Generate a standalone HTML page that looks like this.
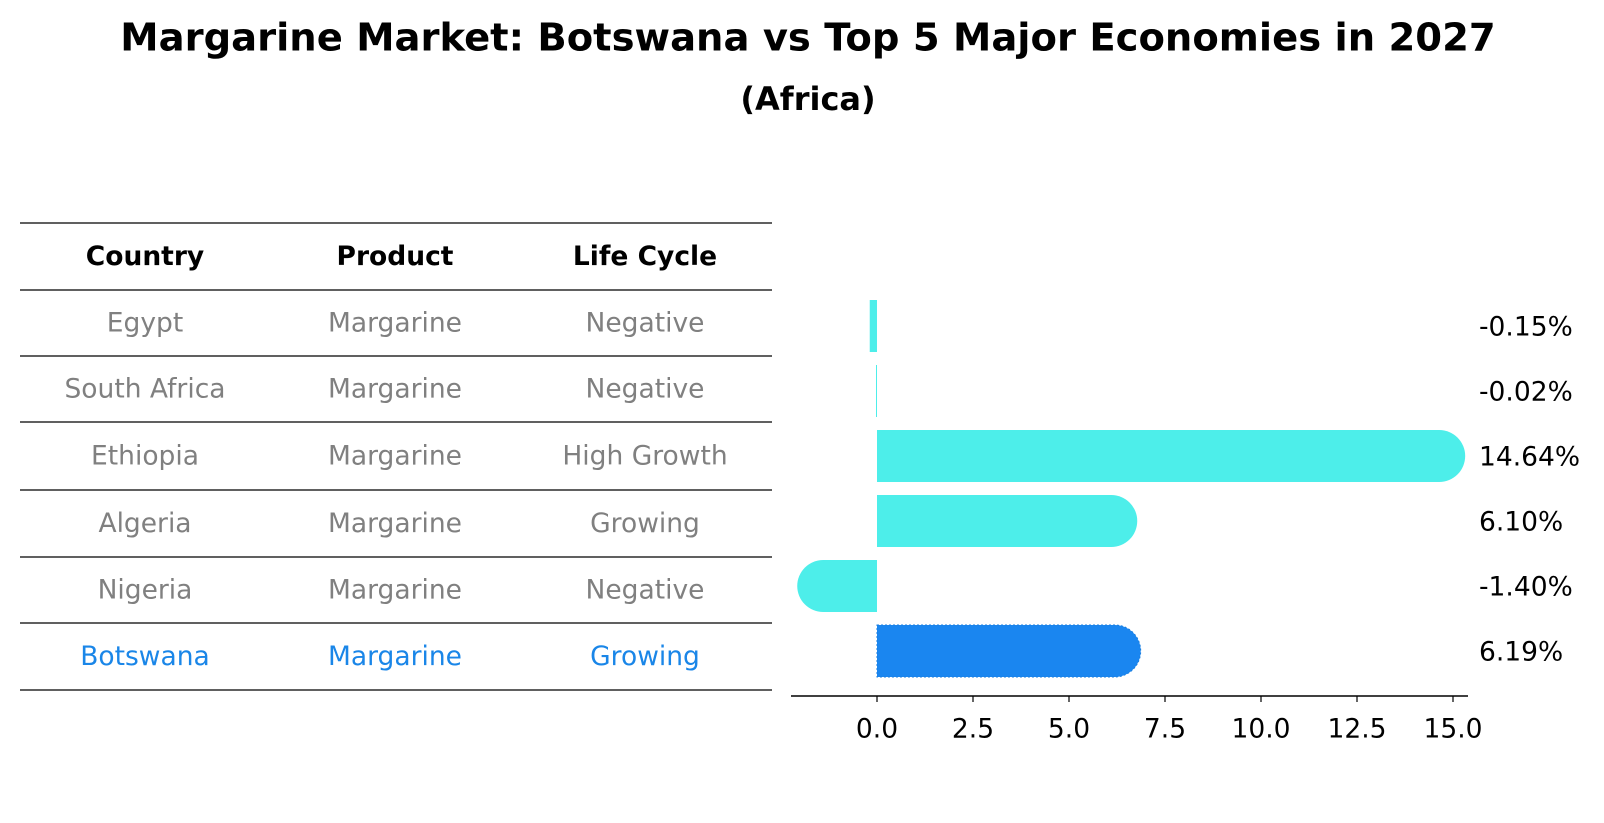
<!DOCTYPE html>
<html><head><meta charset="utf-8"><style>
html,body{margin:0;padding:0;background:#fff;}
svg{display:block;font-family:"DejaVu Sans","Liberation Sans",sans-serif;}
</style></head><body>
<svg id="chart" width="1604" height="823" viewBox="0 0 1604 823">
<text x="808" y="38" text-anchor="middle" dominant-baseline="central" font-size="38.5" font-weight="bold">Margarine Market: Botswana vs Top 5 Major Economies in 2027</text>
<text x="808" y="99" text-anchor="middle" dominant-baseline="central" font-size="32" font-weight="bold">(Africa)</text>
<g id="table"></g>
<g id="bars"></g>
</svg>
<script>
const countries = ["Egypt","South Africa","Ethiopia","Algeria","Nigeria","Botswana"];
const products = ["Margarine","Margarine","Margarine","Margarine","Margarine","Margarine"];
const lifeCycles = ["Negative","Negative","High Growth","Growing","Negative","Growing"];
const growthValues = [-0.15,-0.02,14.64,6.10,-1.40,6.19];
const tickValues = [0,2.5,5,7.5,10,12.5,15];
const tickLabels = ["0.0","2.5","5.0","7.5","10.0","12.5","15.0"];

const NS="http://www.w3.org/2000/svg";
function mk(tag,attrs,parent){const e=document.createElementNS(NS,tag);for(const k in attrs)e.setAttribute(k,attrs[k]);parent.appendChild(e);return e;}

const FS=26.5;
// table
const tbl=document.getElementById('table');
const lineYs=[223,290,356,422,490,557,623,690];
for(let i=0;i<lineYs.length;i++){
  const l=mk('line',{x1:20,x2:772,y1:lineYs[i],y2:lineYs[i],stroke:'#000','stroke-width':1.2},tbl);
  
  
}
const colX=[145,395,645];
const headers=["Country","Product","Life Cycle"];
headers.forEach((h,i)=>{
  const t=mk('text',{x:colX[i],y:(lineYs[0]+lineYs[1])/2,'text-anchor':'middle','dominant-baseline':'central','font-size':FS,'font-weight':'bold',fill:'#000'},tbl);
  t.textContent=h;
  
  
});
countries.forEach((c,r)=>{
  const y=(lineYs[r+1]+lineYs[r+2])/2;
  const col=c==="Botswana"?'#1a86e8':'#808080';
  [c,products[r],lifeCycles[r]].forEach((v,i)=>{
    const t=mk('text',{x:colX[i],y:y,'text-anchor':'middle','dominant-baseline':'central','font-size':FS,fill:col},tbl);
    t.textContent=v;
    
    
  });
});

// bar chart
const g=document.getElementById('bars');
const x0=877, pxPerUnit=38.4;
function xs(v){return x0+v*pxPerUnit;}
const rowY0=326, pitch=65, half=26;
function ys(i){return rowY0+i*pitch;}
growthValues.forEach((v,i)=>{
  const cy=ys(i), xz=xs(0), xv=xs(v);
  const w=Math.abs(xv-xz), s=v>=0?1:-1;
  const color=countries[i]==="Botswana"?'#1a86f0':'#4deeea';
  let d;
  if(w<1){d=`M${xz} ${cy-half} L${xz+s*1} ${cy-half} L${xz+s*1} ${cy+half} L${xz} ${cy+half}Z`;}
  else if(w<half){d=`M${xz} ${cy-half} L${xz+s*(w+1.5)} ${cy-half} L${xz+s*(w+1.5)} ${cy+half} L${xz} ${cy+half}Z`;}
  else d=`M${xz} ${cy-half} L${xv} ${cy-half} A${half} ${half} 0 0 ${s>0?1:0} ${xv} ${cy+half} L${xz} ${cy+half}Z`;
  const p=mk('path',{d:d,fill:color},g);
  if(countries[i]==="Botswana"){p.setAttribute('stroke','#1a7fe0');p.setAttribute('stroke-dasharray','2 2');}
  
  
  const t=mk('text',{x:1479,y:cy+1,'dominant-baseline':'central','font-size':FS,fill:'#000'},g);
  t.textContent=v.toFixed(2)+'%';
  
  
});
const ax=mk('line',{x1:791,x2:1468,y1:696,y2:696,stroke:'#000','stroke-width':1.5},g);


tickValues.forEach((v,i)=>{
  const tk=mk('line',{x1:xs(v),x2:xs(v),y1:696,y2:702,stroke:'#000','stroke-width':1.2},g);
  
  
  const t=mk('text',{x:xs(v),y:729,'text-anchor':'middle','dominant-baseline':'central','font-size':FS,fill:'#000'},g);
  t.textContent=tickLabels[i];
  
  
});
</script>
</body></html>
